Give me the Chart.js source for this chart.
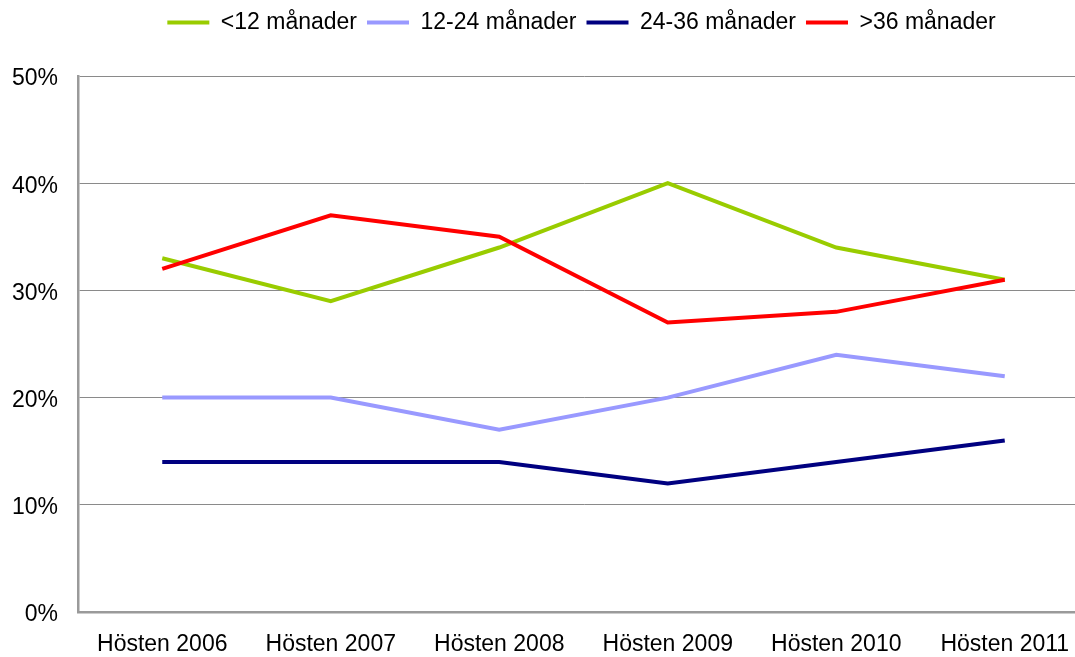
<!DOCTYPE html>
<html>
<head>
<meta charset="utf-8">
<script src="https://cdn.jsdelivr.net/npm/chart.js@4/dist/chart.umd.min.js"></script>
<style>
html,body{margin:0;padding:0;overflow:hidden;background:#fff;width:1075px;height:657px;}
canvas{display:block;}
</style>
</head>
<body>
<canvas id="c" width="1089" height="657"></canvas>
<script>
const categories = ["Hösten 2006","Hösten 2007","Hösten 2008","Hösten 2009","Hösten 2010","Hösten 2011"];
const seriesNames = ["<12 månader","12-24 månader","24-36 månader",">36 månader"];
const under12 = [33, 29, 34, 40, 34, 31];
const m12to24 = [20, 20, 17, 20, 24, 22];
const m24to36 = [14, 14, 14, 12, 14, 16];
const over36 = [32, 37, 35, 27, 28, 31];
const yTicks = [0, 10, 20, 30, 40, 50];
const colors = ["#99CC00", "#9999FF", "#000080", "#FF0000"];

const FONT = {family: "'Liberation Sans', Arial, sans-serif", size: 23};

const legendFix = {
  id: 'legendFix',
  beforeLayout(chart) {
    const lg = chart.legend;
    if (lg && !lg.__fixed) {
      const origFit = lg.fit;
      lg.fit = function () { origFit.call(this); this.height = 76; };
      lg.__fixed = true;
    }
  },
  afterLayout(chart) {
    const lg = chart.legend;
    if (lg) { lg.left += 37; lg.right += 37; lg.top += 1; lg.bottom += 1; }
  }
};

function ds(i, data) {
  return {
    label: seriesNames[i],
    data: data,
    borderColor: colors[i],
    backgroundColor: colors[i],
    borderWidth: 4,
    pointRadius: 0,
    pointHoverRadius: 0,
    tension: 0,
    fill: false,
    order: 4 - i
  };
}

new Chart(document.getElementById('c'), {
  type: 'line',
  data: {
    labels: categories,
    datasets: [ds(0, under12), ds(1, m12to24), ds(2, m24to36), ds(3, over36)]
  },
  plugins: [legendFix],
  options: {
    responsive: false,
    animation: false,
    devicePixelRatio: 1,
    layout: {padding: 0},
    plugins: {
      tooltip: {enabled: false},
      legend: {
        display: true,
        position: 'top',
        labels: {
          font: FONT,
          color: '#000',
          usePointStyle: true,
          pointStyle: 'line',
          pointStyleWidth: 42,
          boxHeight: 23,
          padding: 10,
          sort: (a, b) => a.datasetIndex - b.datasetIndex
        }
      }
    },
    scales: {
      x: {
        offset: true,
        grid: {display: false, drawTicks: false},
        border: {display: true, color: '#9a9a9a', width: 2.5},
        ticks: {font: FONT, color: '#000', padding: 19, maxRotation: 0, autoSkip: false},
        afterFit(scale) { scale.height = 45; }
      },
      y: {
        min: 0,
        max: 50,
        afterBuildTicks(scale) { scale.ticks = yTicks.map(v => ({value: v})); },
        grid: {color: '#8a8a8a', lineWidth: 1, drawTicks: false},
        border: {display: true, color: '#9a9a9a', width: 2.5},
        ticks: {font: FONT, color: '#000', padding: 20, labelOffset: 3, callback: v => v + '%'},
        afterFit(scale) { scale.width = 78; }
      }
    }
  }
});
</script>
</body>
</html>
